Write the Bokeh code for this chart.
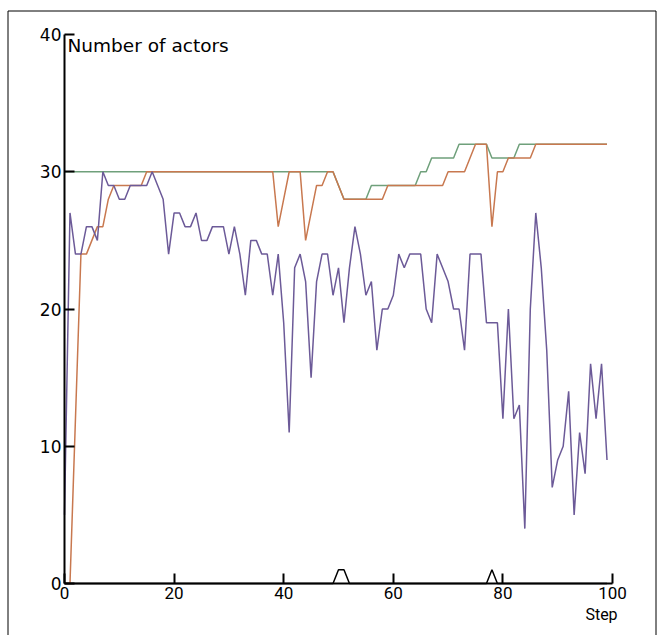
from bokeh.plotting import figure
from bokeh.models import Range1d, FixedTicker, Label, BoxAnnotation
from bokeh.embed import file_html
from bokeh.resources import INLINE

# ---- data -------------------------------------------------------------
steps = list(range(100))

purple_actors = [
    5, 27, 24, 24, 26, 26, 25, 30, 29, 29,
    28, 28, 29, 29, 29, 29, 30, 29, 28, 24,
    27, 27, 26, 26, 27, 25, 25, 26, 26, 26,
    24, 26, 24, 21, 25, 25, 24, 24, 21, 24,
    19, 11, 23, 24, 22, 15, 22, 24, 24, 21,
    23, 19, 23, 26, 24, 21, 22, 17, 20, 20,
    21, 24, 23, 24, 24, 24, 20, 19, 24, 23,
    22, 20, 20, 17, 24, 24, 24, 19, 19, 19,
    12, 20, 12, 13, 4, 20, 27, 23, 17, 7,
    9, 10, 14, 5, 11, 8, 16, 12, 16, 9,
]

orange_actors = [
    0, 0, 12, 24, 24, 25, 26, 26, 28, 29,
    29, 29, 29, 29, 29, 30, 30, 30, 30, 30,
    30, 30, 30, 30, 30, 30, 30, 30, 30, 30,
    30, 30, 30, 30, 30, 30, 30, 30, 30, 26,
    28, 30, 30, 30, 25, 27, 29, 29, 30, 30,
    29, 28, 28, 28, 28, 28, 28, 28, 28, 29,
    29, 29, 29, 29, 29, 29, 29, 29, 29, 29,
    30, 30, 30, 30, 31, 32, 32, 32, 26, 30,
    30, 31, 31, 31, 31, 31, 32, 32, 32, 32,
    32, 32, 32, 32, 32, 32, 32, 32, 32, 32,
]

green_actors = [
    30, 30, 30, 30, 30, 30, 30, 30, 30, 30,
    30, 30, 30, 30, 30, 30, 30, 30, 30, 30,
    30, 30, 30, 30, 30, 30, 30, 30, 30, 30,
    30, 30, 30, 30, 30, 30, 30, 30, 30, 30,
    30, 30, 30, 30, 30, 30, 30, 30, 30, 30,
    29, 28, 28, 28, 28, 28, 29, 29, 29, 29,
    29, 29, 29, 29, 29, 30, 30, 31, 31, 31,
    31, 31, 32, 32, 32, 32, 32, 32, 31, 31,
    31, 31, 31, 32, 32, 32, 32, 32, 32, 32,
    32, 32, 32, 32, 32, 32, 32, 32, 32, 32,
]

black_actors = [
    0, 0, 0, 0, 0, 0, 0, 0, 0, 0,
    0, 0, 0, 0, 0, 0, 0, 0, 0, 0,
    0, 0, 0, 0, 0, 0, 0, 0, 0, 0,
    0, 0, 0, 0, 0, 0, 0, 0, 0, 0,
    0, 0, 0, 0, 0, 0, 0, 0, 0, 0,
    1, 1, 0, 0, 0, 0, 0, 0, 0, 0,
    0, 0, 0, 0, 0, 0, 0, 0, 0, 0,
    0, 0, 0, 0, 0, 0, 0, 0, 1, 0,
    0, 0, 0, 0, 0, 0, 0, 0, 0, 0,
    0, 0, 0, 0, 0, 0, 0, 0, 0, 0,
]

x_ticks = [0, 20, 40, 60, 80, 100]
y_ticks = [0, 10, 20, 30, 40]
y_title = "Number of actors"
x_title = "Step"

# ---- figure -----------------------------------------------------------
W, H = 663, 635
X0, XPU = 64.0, 5.48      # pixel of step 0, pixels per step
Y0, YPU = 583.0, 13.725   # pixel of 0 actors, pixels per actor

p = figure(width=W, height=H, output_backend="svg", toolbar_location=None,
           x_range=Range1d((0 - X0) / XPU, (W - X0) / XPU),
           y_range=Range1d((Y0 - H) / YPU, (Y0 - 0) / YPU),
           min_border_left=0, min_border_right=0, min_border_top=0,
           min_border_bottom=0)
p.xgrid.visible = False
p.ygrid.visible = False
p.background_fill_color = "white"
p.border_fill_color = "white"
p.outline_line_color = None

# outer frame (bottom edge lies below the window)
p.add_layout(BoxAnnotation(left=(7.5 - X0) / XPU, right=(655.5 - X0) / XPU,
                           top=(Y0 - 10.5) / YPU, bottom=(Y0 - 700) / YPU,
                           fill_color=None, fill_alpha=0,
                           line_color="black", line_width=1, line_alpha=1))

for ax, ticks in ((p.xaxis, x_ticks), (p.yaxis, y_ticks)):
    ax.fixed_location = 0
    ax.ticker = FixedTicker(ticks=ticks)
    ax.axis_line_color = "black"
    ax.axis_line_width = 2
    ax.major_tick_line_color = "black"
    ax.major_tick_line_width = 2
    ax.major_tick_in = 10
    ax.major_tick_out = 0
    ax.minor_tick_line_color = None
    ax.major_label_text_color = "black"
    ax.major_label_standoff = 3

p.xaxis.bounds = (0, 100)
p.yaxis.bounds = (0, 40)
p.yaxis.major_label_text_font = "DejaVu Sans"
p.yaxis.major_label_text_font_size = "17px"
p.xaxis.major_label_text_font = "Roboto"
p.xaxis.major_label_text_font_size = "17px"

p.line(steps, black_actors, line_color="black", line_width=1.5)
p.line(steps, green_actors, line_color="#6fa07b", line_width=1.5)
p.line(steps, orange_actors, line_color="#c8784f", line_width=1.5)
p.line(steps, purple_actors, line_color="#6c5a98", line_width=1.5)

p.add_layout(Label(x=0, y=40, x_offset=3, y_offset=0, text=y_title,
                   text_baseline="top", text_font="DejaVu Sans",
                   text_font_size="18.5px", text_color="black"))
p.add_layout(Label(x=100, y=0, x_offset=-11, y_offset=-21, text=x_title,
                   text_align="center", text_baseline="top",
                   text_font="Roboto",
                   text_font_size="16px", text_color="black"))

open("out.html", "w").write(file_html(p, INLINE))
